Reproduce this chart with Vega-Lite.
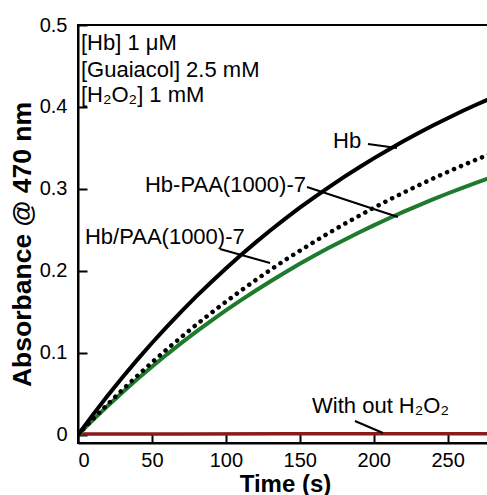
{
  "$schema": "https://vega.github.io/schema/vega-lite/v6.json",
  "autosize": {"type": "none"},
  "padding": {"left": 78, "top": 25, "right": 0, "bottom": 52},
  "width": 414,
  "height": 418,
  "background": "white",
  "config": {
    "view": {"stroke": "black", "strokeWidth": 2},
    "font": "Liberation Sans",
    "axis": {
      "domainColor": "black", "domainWidth": 2, "tickColor": "black", "tickWidth": 2,
      "labelColor": "black", "titleColor": "black", "labelFont": "Liberation Sans", "titleFont": "Liberation Sans",
      "labelFontSize": 20, "titleFontSize": 24, "titleFontWeight": "bold", "grid": false
    }
  },
  "datasets": {
    "curves": [
      {"t": 0, "A": 0, "s": "Hb"}, {"t": 10, "A": 0.0243, "s": "Hb"}, {"t": 20, "A": 0.0476, "s": "Hb"}, {"t": 30, "A": 0.0699, "s": "Hb"}, {"t": 40, "A": 0.0914, "s": "Hb"}, {"t": 50, "A": 0.112, "s": "Hb"}, {"t": 60, "A": 0.1317, "s": "Hb"}, {"t": 70, "A": 0.1507, "s": "Hb"}, {"t": 80, "A": 0.1688, "s": "Hb"}, {"t": 90, "A": 0.1862, "s": "Hb"}, {"t": 100, "A": 0.203, "s": "Hb"}, {"t": 110, "A": 0.2191, "s": "Hb"}, {"t": 120, "A": 0.2345, "s": "Hb"}, {"t": 130, "A": 0.2492, "s": "Hb"}, {"t": 140, "A": 0.2635, "s": "Hb"}, {"t": 150, "A": 0.2771, "s": "Hb"}, {"t": 160, "A": 0.2901, "s": "Hb"}, {"t": 170, "A": 0.3026, "s": "Hb"}, {"t": 180, "A": 0.3147, "s": "Hb"}, {"t": 190, "A": 0.3262, "s": "Hb"}, {"t": 200, "A": 0.3373, "s": "Hb"}, {"t": 210, "A": 0.3479, "s": "Hb"}, {"t": 220, "A": 0.3581, "s": "Hb"}, {"t": 230, "A": 0.3679, "s": "Hb"}, {"t": 240, "A": 0.3773, "s": "Hb"}, {"t": 250, "A": 0.3863, "s": "Hb"}, {"t": 260, "A": 0.395, "s": "Hb"}, {"t": 270, "A": 0.4033, "s": "Hb"}, {"t": 280, "A": 0.4112, "s": "Hb"},
      {"t": 0, "A": 0, "s": "HbPAA"}, {"t": 10, "A": 0.0189, "s": "HbPAA"}, {"t": 20, "A": 0.0372, "s": "HbPAA"}, {"t": 30, "A": 0.0548, "s": "HbPAA"}, {"t": 40, "A": 0.0718, "s": "HbPAA"}, {"t": 50, "A": 0.0883, "s": "HbPAA"}, {"t": 60, "A": 0.1042, "s": "HbPAA"}, {"t": 70, "A": 0.1195, "s": "HbPAA"}, {"t": 80, "A": 0.1343, "s": "HbPAA"}, {"t": 90, "A": 0.1486, "s": "HbPAA"}, {"t": 100, "A": 0.1624, "s": "HbPAA"}, {"t": 110, "A": 0.1757, "s": "HbPAA"}, {"t": 120, "A": 0.1886, "s": "HbPAA"}, {"t": 130, "A": 0.2011, "s": "HbPAA"}, {"t": 140, "A": 0.2131, "s": "HbPAA"}, {"t": 150, "A": 0.2246, "s": "HbPAA"}, {"t": 160, "A": 0.2358, "s": "HbPAA"}, {"t": 170, "A": 0.2466, "s": "HbPAA"}, {"t": 180, "A": 0.2571, "s": "HbPAA"}, {"t": 190, "A": 0.2671, "s": "HbPAA"}, {"t": 200, "A": 0.2769, "s": "HbPAA"}, {"t": 210, "A": 0.2863, "s": "HbPAA"}, {"t": 220, "A": 0.2953, "s": "HbPAA"}, {"t": 230, "A": 0.3041, "s": "HbPAA"}, {"t": 240, "A": 0.3126, "s": "HbPAA"}, {"t": 250, "A": 0.3207, "s": "HbPAA"}, {"t": 260, "A": 0.3286, "s": "HbPAA"}, {"t": 270, "A": 0.3362, "s": "HbPAA"}, {"t": 280, "A": 0.3436, "s": "HbPAA"},
      {"t": 0, "A": 0, "s": "HbMix"}, {"t": 10, "A": 0.0179, "s": "HbMix"}, {"t": 20, "A": 0.0351, "s": "HbMix"}, {"t": 30, "A": 0.0517, "s": "HbMix"}, {"t": 40, "A": 0.0677, "s": "HbMix"}, {"t": 50, "A": 0.083, "s": "HbMix"}, {"t": 60, "A": 0.0979, "s": "HbMix"}, {"t": 70, "A": 0.1121, "s": "HbMix"}, {"t": 80, "A": 0.1258, "s": "HbMix"}, {"t": 90, "A": 0.1391, "s": "HbMix"}, {"t": 100, "A": 0.1517, "s": "HbMix"}, {"t": 110, "A": 0.164, "s": "HbMix"}, {"t": 120, "A": 0.1758, "s": "HbMix"}, {"t": 130, "A": 0.1871, "s": "HbMix"}, {"t": 140, "A": 0.198, "s": "HbMix"}, {"t": 150, "A": 0.2086, "s": "HbMix"}, {"t": 160, "A": 0.2187, "s": "HbMix"}, {"t": 170, "A": 0.2284, "s": "HbMix"}, {"t": 180, "A": 0.2378, "s": "HbMix"}, {"t": 190, "A": 0.2468, "s": "HbMix"}, {"t": 200, "A": 0.2555, "s": "HbMix"}, {"t": 210, "A": 0.2639, "s": "HbMix"}, {"t": 220, "A": 0.272, "s": "HbMix"}, {"t": 230, "A": 0.2797, "s": "HbMix"}, {"t": 240, "A": 0.2872, "s": "HbMix"}, {"t": 250, "A": 0.2944, "s": "HbMix"}, {"t": 260, "A": 0.3013, "s": "HbMix"}, {"t": 270, "A": 0.308, "s": "HbMix"}, {"t": 280, "A": 0.3144, "s": "HbMix"},
      {"t": 0, "A": 0.001, "s": "NoH2O2"}, {"t": 70, "A": 0.001, "s": "NoH2O2"}, {"t": 140, "A": 0.0012, "s": "NoH2O2"}, {"t": 210, "A": 0.0012, "s": "NoH2O2"}, {"t": 280, "A": 0.0013, "s": "NoH2O2"}
    ],
    "labels": [
      {"t": 2, "A": 0.470, "text": "[Hb] 1 μM"},
      {"t": 2, "A": 0.4366, "text": "[Guaiacol] 2.5 mM"},
      {"t": 2, "A": 0.4061, "text": "[H₂O₂] 1 mM"},
      {"t": 172.5, "A": 0.350, "text": "Hb"},
      {"t": 45.3, "A": 0.2962, "text": "Hb-PAA(1000)-7"},
      {"t": 4.7, "A": 0.2328, "text": "Hb/PAA(1000)-7"},
      {"t": 158.3, "A": 0.0266, "text": "With out H₂O₂"}
    ],
    "pointers": [
      {"t": 196.1, "A": 0.3548, "t2": 215.7, "A2": 0.3499},
      {"t": 154.9, "A": 0.3023, "t2": 216.4, "A2": 0.2657},
      {"t": 96.0, "A": 0.2267, "t2": 129.9, "A2": 0.2096},
      {"t": 187.3, "A": 0.0168, "t2": 206.3, "A2": 0.0022}
    ]
  },
  "encoding": {
    "x": {"field": "t", "type": "quantitative", "scale": {"domain": [0, 280], "nice": false, "zero": false},
      "axis": {"title": "Time (s)", "values": [0, 50, 100, 150, 200, 250], "tickSize": -9, "labelPadding": 16, "titlePadding": 2, "titleFontSize": 24}},
    "y": {"field": "A", "type": "quantitative", "scale": {"domain": [-0.01, 0.5], "nice": false, "zero": false},
      "axis": {"title": "Absorbance @ 470 nm", "values": [0, 0.1, 0.2, 0.3, 0.4, 0.5], "tickSize": -9, "labelPadding": 20, "titlePadding": 3, "titleFontSize": 26.5, "titleY": 219,
        "labelExpr": "datum.value == 0 ? '0' : format(datum.value, '.1f')"}}
  },
  "layer": [
    {"data": {"name": "curves"}, "transform": [{"filter": "datum.s == 'NoH2O2'"}], "mark": {"type": "line", "color": "#8b1a1a", "strokeWidth": 3.5, "clip": true}},
    {"data": {"name": "curves"}, "transform": [{"filter": "datum.s == 'HbMix'"}], "mark": {"type": "line", "color": "#1e7b2e", "strokeWidth": 4, "clip": true}},
    {"data": {"name": "curves"}, "transform": [{"filter": "datum.s == 'HbPAA'"}], "mark": {"type": "line", "color": "black", "strokeWidth": 4.5, "strokeDash": [0.1, 7.5], "strokeCap": "round", "clip": true}},
    {"data": {"name": "curves"}, "transform": [{"filter": "datum.s == 'Hb'"}], "mark": {"type": "line", "color": "black", "strokeWidth": 4, "clip": true}},
    {"data": {"name": "pointers"}, "mark": {"type": "rule", "color": "black", "strokeWidth": 2},
      "encoding": {"x2": {"field": "t2"}, "y2": {"field": "A2"}}},
    {"data": {"name": "labels"}, "mark": {"type": "text", "align": "left", "baseline": "alphabetic", "fontSize": 22, "font": "Liberation Sans", "color": "black"},
      "encoding": {"text": {"field": "text"}}}
  ]
}
